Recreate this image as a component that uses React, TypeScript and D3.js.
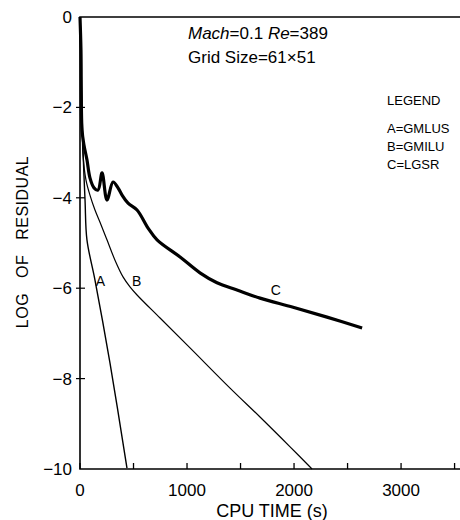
import React, { useEffect, useRef } from 'react';
import * as d3 from 'd3';

// CPU time (s) vs log of residual
const timeA = [0, 9, 19, 28, 47, 65, 140, 280, 439];
const logA = [0, -0.95, -2.06, -2.94, -4.05, -4.93, -5.82, -7.65, -9.98];

const timeB = [0, 9, 19, 28, 56, 93, 140, 187, 252, 327, 402, 467, 533, 748, 1028, 1402, 1682, 1963, 2168];
const logB = [0, -0.95, -2.28, -3.05, -3.61, -3.94, -4.27, -4.54, -4.93, -5.38, -5.75, -5.97, -6.15, -6.66, -7.32, -8.21, -8.85, -9.51, -10];

const timeC = [0, 9, 19, 37, 65, 93, 131, 168, 206, 252, 309, 355, 393, 449, 533, 636, 720, 935, 1121, 1280, 1467, 1682, 1991, 2308, 2636];
const logC = [0, -0.73, -2.5, -2.83, -3.16, -3.56, -3.78, -3.83, -3.45, -4.05, -3.65, -3.78, -3.94, -4.12, -4.27, -4.67, -4.93, -5.31, -5.66, -5.88, -6.04, -6.22, -6.42, -6.64, -6.88];

const xTicks = [0, 500, 1000, 1500, 2000, 2500, 3000, 3500];
const xTickLabels = [0, 1000, 2000, 3000];
const yTicks = [0, -2, -4, -6, -8, -10];

const legendLines = ['A=GMLUS', 'B=GMILU', 'C=LGSR'];
const curveLabels = [
  { name: 'A', t: 190, v: -5.95 },
  { name: 'B', t: 530, v: -5.95 },
  { name: 'C', t: 1830, v: -6.15 },
];

const Chart = () => {
  const svgRef = useRef(null);

  useEffect(() => {
    const svg = d3.select(svgRef.current);
    svg.selectAll('*').remove();
    const width = 460;
    const height = 520;
    const font = '"Liberation Sans", Arial, sans-serif';

    const x = d3.scaleLinear().domain([0, 3560]).range([80, 461]);
    const y = d3.scaleLinear().domain([-10, 0]).range([469, 17]);

    svg.attr('width', width).attr('height', height);

    // frame: left, bottom, top
    svg.append('path')
      .attr('d', `M${x(3560)},${y(0)}H${x(0)}V${y(-10)}H${x(3560)}`)
      .attr('fill', 'none')
      .attr('stroke', '#000')
      .attr('stroke-width', 1.6);

    // x ticks (inward)
    svg.selectAll('.xt').data(xTicks).enter().append('line')
      .attr('x1', d => x(d)).attr('x2', d => x(d))
      .attr('y1', y(-10)).attr('y2', y(-10) - 6)
      .attr('stroke', '#000').attr('stroke-width', 1.3);

    svg.selectAll('.xl').data(xTickLabels).enter().append('text')
      .attr('x', d => x(d)).attr('y', 496)
      .attr('text-anchor', 'middle')
      .style('font-family', font).style('font-size', '17px')
      .text(d => d);

    // y ticks
    svg.selectAll('.yt').data(yTicks.slice(1, -1)).enter().append('line')
      .attr('x1', x(0) - 4).attr('x2', x(0) + 5)
      .attr('y1', d => y(d)).attr('y2', d => y(d))
      .attr('stroke', '#000').attr('stroke-width', 1.2);

    svg.selectAll('.yl').data(yTicks).enter().append('text')
      .attr('x', 72).attr('y', d => y(d) + 6)
      .attr('text-anchor', 'end')
      .style('font-family', font).style('font-size', '17px')
      .text(d => (d < 0 ? '\u2212' + Math.abs(d) : d));

    // axis titles
    svg.append('text')
      .attr('x', 272).attr('y', 517)
      .attr('text-anchor', 'middle')
      .style('font-family', font).style('font-size', '18px')
      .text('CPU TIME (s)');

    svg.append('text')
      .attr('transform', 'translate(28,242) rotate(-90)')
      .attr('text-anchor', 'middle')
      .style('font-family', font).style('font-size', '16px')
      .style('letter-spacing', '0.5px')
      .style('word-spacing', '10px')
      .text('LOG OF RESIDUAL');

    // curves
    const line = d3.line()
      .x(d => x(d[0]))
      .y(d => y(d[1]))
      .curve(d3.curveCatmullRom.alpha(0.5));

    const series = [
      { t: timeA, v: logA, w: 1.4 },
      { t: timeB, v: logB, w: 1.2 },
      { t: timeC, v: logC, w: 3.2 },
    ];
    series.forEach(s => {
      svg.append('path')
        .datum(s.t.map((t, i) => [t, s.v[i]]))
        .attr('fill', 'none')
        .attr('stroke', '#000')
        .attr('stroke-width', s.w)
        .attr('stroke-linejoin', 'round')
        .attr('d', line);
    });

    svg.selectAll('.cl').data(curveLabels).enter().append('text')
      .attr('x', d => x(d.t)).attr('y', d => y(d.v))
      .attr('text-anchor', 'middle')
      .style('font-family', font).style('font-size', '14px')
      .text(d => d.name);

    // annotation
    const ann = svg.append('text')
      .attr('x', 188).attr('y', 39)
      .style('font-family', font).style('font-size', '17px');
    ann.append('tspan').style('font-style', 'italic').text('Mach');
    ann.append('tspan').text('=0.1  ');
    ann.append('tspan').style('font-style', 'italic').text('Re');
    ann.append('tspan').text('=389');

    svg.append('text')
      .attr('x', 188).attr('y', 63)
      .style('font-family', font).style('font-size', '17px')
      .text('Grid Size=61\u00d751');

    // legend
    svg.append('text')
      .attr('x', 387).attr('y', 105)
      .style('font-family', font).style('font-size', '13px')
      .text('LEGEND');

    svg.selectAll('.lg').data(legendLines).enter().append('text')
      .attr('x', 387).attr('y', (d, i) => 133 + i * 18)
      .style('font-family', font).style('font-size', '13px')
      .text(d => d);
  }, []);

  return (
    <svg ref={svgRef} style={{ position: 'absolute', left: 0, top: 0, background: '#fff' }}></svg>
  );
};

export default function App() {
  return <Chart />;
}
